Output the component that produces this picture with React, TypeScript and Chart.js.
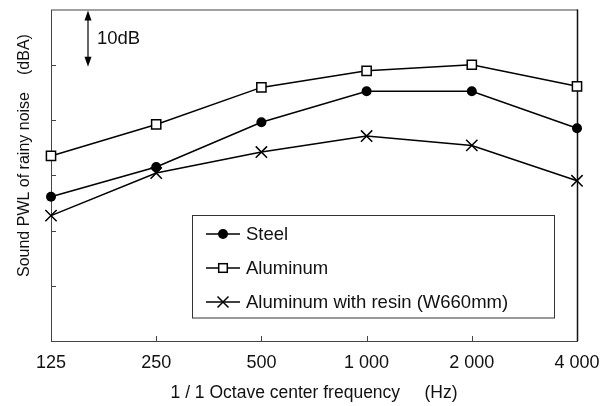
import React, { useEffect, useRef } from "react";
import { Chart, registerables } from "chart.js";

Chart.register(...registerables);

const categories = ["125", "250", "500", "1 000", "2 000", "4 000"];
const steel = [56.1, 61.5, 69.6, 75.2, 75.2, 68.5];
const aluminum = [63.5, 69.2, 75.9, 78.9, 80.0, 76.1];
const resin = [52.7, 60.4, 64.2, 67.1, 65.4, 59.0];
const seriesNames = ["Steel", "Aluminum", "Aluminum with resin (W660mm)"];
const yMin = 30;
const yMax = 90;
const yStep = 10;
const xTitle = "1 / 1 Octave center frequency     (Hz)";
const yTitleMain = "Sound PWL of rainy noise";
const yTitleUnit = "(dBA)";
const scaleLabel = "10dB";

const FONT = "'Liberation Sans', Arial, sans-serif";
const INK = "#111";

function drawMarker(ctx: CanvasRenderingContext2D, style: string, x: number, y: number) {
  ctx.save();
  ctx.strokeStyle = "#000";
  ctx.lineWidth = 1.5;
  if (style === "circle") {
    ctx.fillStyle = "#000";
    ctx.beginPath();
    ctx.arc(x, y, 5, 0, Math.PI * 2);
    ctx.fill();
  } else if (style === "rect") {
    const s = 4.3;
    ctx.fillStyle = "#fff";
    ctx.fillRect(x - s, y - s, 2 * s, 2 * s);
    ctx.strokeRect(x - s, y - s, 2 * s, 2 * s);
  } else {
    const o = 5.5;
    ctx.beginPath();
    ctx.moveTo(x - o, y - o);
    ctx.lineTo(x + o, y + o);
    ctx.moveTo(x + o, y - o);
    ctx.lineTo(x - o, y + o);
    ctx.stroke();
  }
  ctx.restore();
}

const framePlugin = {
  id: "frame",
  beforeDatasetsDraw(chart: any) {
    const { ctx, chartArea: a, scales } = chart;
    const y = scales.y;
    const x = scales.x;
    ctx.save();
    ctx.strokeStyle = "#444";
    ctx.lineWidth = 1;
    ctx.strokeRect(a.left + 0.5, a.top + 0.5, a.right - a.left, a.bottom - a.top);
    ctx.strokeStyle = "#111";
    ctx.lineWidth = 1.5;
    ctx.beginPath();
    ctx.moveTo(a.right + 0.5, a.top);
    ctx.lineTo(a.right + 0.5, a.bottom);
    ctx.stroke();
    ctx.strokeStyle = "#444";
    ctx.lineWidth = 1;
    ctx.beginPath();
    for (let v = yMin + yStep; v < yMax; v += yStep) {
      const py = Math.round(y.getPixelForValue(v)) + 0.5;
      ctx.moveTo(a.left, py);
      ctx.lineTo(a.left + 5, py);
    }
    for (let i = 1; i < categories.length - 1; i++) {
      const px = Math.round(x.getPixelForValue(i)) + 0.5;
      ctx.moveTo(px, a.bottom);
      ctx.lineTo(px, a.bottom - 5);
    }
    ctx.stroke();
    ctx.restore();
  },
  afterDraw(chart: any) {
    const { ctx, chartArea: a, scales } = chart;
    const y = scales.y;
    ctx.save();
    ctx.fillStyle = INK;
    ctx.font = `16px ${FONT}`;
    ctx.textBaseline = "middle";
    ctx.translate(25, 277);
    ctx.rotate(-Math.PI / 2);
    ctx.textAlign = "left";
    ctx.fillText(yTitleMain, 0, 0);
    const w = ctx.measureText(yTitleMain).width;
    ctx.fillText(yTitleUnit, w + 17, 0);
    ctx.restore();

    const ax = a.left + 37;
    const top = y.getPixelForValue(yMax);
    const bot = y.getPixelForValue(yMax - yStep);
    ctx.save();
    ctx.strokeStyle = "#000";
    ctx.fillStyle = "#000";
    ctx.lineWidth = 1.2;
    ctx.beginPath();
    ctx.moveTo(ax, top + 4);
    ctx.lineTo(ax, bot - 4);
    ctx.stroke();
    ctx.beginPath();
    ctx.moveTo(ax, top + 1);
    ctx.lineTo(ax - 3.5, top + 11);
    ctx.lineTo(ax + 3.5, top + 11);
    ctx.closePath();
    ctx.fill();
    ctx.beginPath();
    ctx.moveTo(ax, bot + 2);
    ctx.lineTo(ax - 3.5, bot - 8);
    ctx.lineTo(ax + 3.5, bot - 8);
    ctx.closePath();
    ctx.fill();
    ctx.fillStyle = INK;
    ctx.font = `18.5px ${FONT}`;
    ctx.textBaseline = "middle";
    ctx.textAlign = "left";
    ctx.fillText(scaleLabel, ax + 9, (top + bot) / 2 + 2);
    ctx.restore();

    ctx.save();
    const lx = 192.5, ly = 215.5, lw = 362, lh = 102.5;
    ctx.fillStyle = "#fff";
    ctx.fillRect(lx, ly, lw, lh);
    ctx.strokeStyle = "#333";
    ctx.lineWidth = 1;
    ctx.strokeRect(lx, ly, lw, lh);
    chart.data.datasets.forEach((ds: any, i: number) => {
      const iy = 234 + i * 34;
      ctx.strokeStyle = "#000";
      ctx.lineWidth = 1.5;
      ctx.beginPath();
      ctx.moveTo(206, iy);
      ctx.lineTo(240, iy);
      ctx.stroke();
      drawMarker(ctx, ds.pointStyle, 223, iy);
      ctx.fillStyle = INK;
      ctx.font = `18.5px ${FONT}`;
      ctx.textBaseline = "middle";
      ctx.textAlign = "left";
      ctx.fillText(ds.label, 246, iy + 1);
    });
    ctx.restore();
  },
};

export default function App() {
  const ref = useRef<HTMLCanvasElement | null>(null);
  useEffect(() => {
    if (!ref.current) return;
    const common = { borderColor: "#000", borderWidth: 1.5, pointBorderWidth: 1.5, clip: false as any, tension: 0 };
    const chart = new Chart(ref.current, {
      type: "line",
      data: {
        labels: categories,
        datasets: [
          { ...common, label: seriesNames[0], data: steel, pointStyle: "circle", pointRadius: 5, pointBackgroundColor: "#000", pointBorderColor: "#000", pointBorderWidth: 0 },
          { ...common, label: seriesNames[1], data: aluminum, pointStyle: "rect", pointRadius: 6.5, pointBackgroundColor: "#fff", pointBorderColor: "#000" },
          { ...common, label: seriesNames[2], data: resin, pointStyle: "crossRot", pointRadius: 8, pointBackgroundColor: "#000", pointBorderColor: "#000" },
        ] as any,
      },
      options: {
        animation: false,
        responsive: false,
        devicePixelRatio: 1,
        layout: { padding: { left: 51, top: 7.5, right: 39, bottom: 0 } },
        plugins: { legend: { display: false }, tooltip: { enabled: false } },
        scales: {
          x: {
            type: "category",
            offset: false,
            grid: { display: false, drawTicks: false },
            border: { display: false },
            ticks: { color: INK, font: { family: FONT, size: 18 }, padding: 11, maxRotation: 0, autoSkip: false },
            title: { display: true, text: xTitle, color: INK, font: { family: FONT, size: 17.5 }, padding: { top: 0, bottom: 2.5 } },
            afterFit: (s: any) => { s.height = 65; },
          },
          y: {
            display: false,
            min: yMin,
            max: yMax,
            ticks: { stepSize: yStep },
          },
        },
      },
      plugins: [framePlugin],
    });
    return () => chart.destroy();
  }, []);
  return (
    <div style={{ position: "fixed", left: 0, top: 0, width: 616, height: 406, background: "#fff" }}>
      <canvas ref={ref} width={616} height={406} style={{ width: 616, height: 406 }} />
    </div>
  );
}
